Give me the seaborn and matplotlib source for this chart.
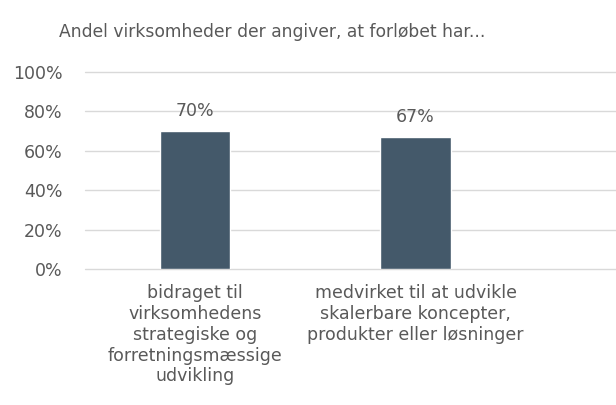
import pandas as pd
import matplotlib.pyplot as plt
import seaborn as sns
from matplotlib.ticker import PercentFormatter

categories = ['bidraget til\nvirksomhedens\nstrategiske og\nforretningsmæssige\nudvikling',
              'medvirket til at udvikle\nskalerbare koncepter,\nprodukter eller løsninger']
shares = [70, 67]
title = 'Andel virksomheder der angiver, at forløbet har...'

grey = '#595959'
bar_color = '#44596a'

sns.set_style('white')
plt.rcParams['font.family'] = ['DejaVu Sans']

df = pd.DataFrame({'kategori': categories, 'andel': shares})

fig = plt.figure(figsize=(6.16, 4.05), dpi=100)
ax = fig.add_axes([0.138, 0.336, 0.862, 0.486])

sns.barplot(data=df, x='kategori', y='andel', color=bar_color, width=0.32,
            saturation=1, ax=ax, zorder=3)

ax.set_ylim(0, 100)
ax.set_xlim(-0.5, 1.91)
ax.set_yticks(range(0, 101, 20))
ax.yaxis.set_major_formatter(PercentFormatter(decimals=0))
ax.grid(axis='y', color='#d9d9d9', linewidth=1, zorder=0)
ax.set_axisbelow(True)
for gl in ax.get_ygridlines():
  gl.set_clip_on(False)
for s in ax.spines.values():
  s.set_visible(False)
ax.tick_params(axis='both', length=0, labelsize=12.5, colors=grey)
ax.tick_params(axis='x', pad=11)
ax.tick_params(axis='y', pad=16)
ax.set_xlabel('')
ax.set_ylabel('')
for lbl in ax.get_xticklabels():
  lbl.set_linespacing(1.2)

for i, v in enumerate(shares):
  ax.text(i, v + 5.5, f'{v}%', ha='center', va='bottom', fontsize=12.5, color=grey)

fig.text(0.442, 0.921, title, ha='center', va='center', fontsize=12.3, color=grey)

plt.savefig('out.png', dpi=100)
